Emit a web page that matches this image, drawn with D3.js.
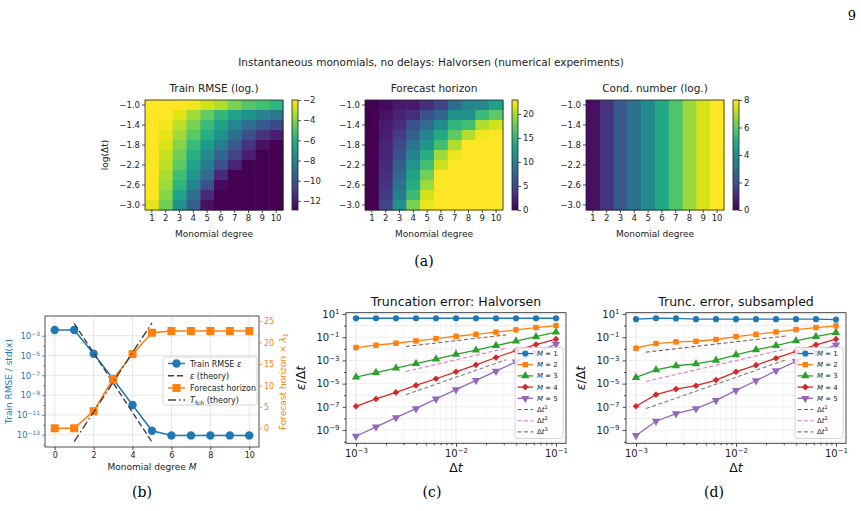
<!DOCTYPE html>
<html lang="en">
<head>
<meta charset="UTF-8">
<title>Instantaneous monomials, no delays: Halvorsen</title>
<script src="https://cdn.jsdelivr.net/npm/d3@7"></script>
<style>
  body { margin: 0; background: #fff; }
  svg { font-family: "DejaVu Sans", sans-serif; }
</style>
</head>
<body>
<svg id="fig" width="861" height="511"></svg>
<script>
// ---- data: heatmaps (rows = log(dt) from -1.0 down to -3.0, cols = monomial degree 1..10)
const degrees = [1, 2, 3, 4, 5, 6, 7, 8, 9, 10];
const logDt = [-1.0, -1.2, -1.4, -1.6, -1.8, -2.0, -2.2, -2.4, -2.6, -2.8, -3.0];
const logDtTicks = [-1.0, -1.4, -1.8, -2.2, -2.6, -3.0];

const trainRmseLog = [
  [-2.0, -2.0, -2.0, -2.2, -2.8, -3.3, -4.2, -4.9, -5.3, -5.8],
  [-2.0, -2.0, -2.5, -3.5, -4.6, -5.7, -6.6, -7.4, -8.1, -8.5],
  [-2.0, -2.2, -3.1, -4.2, -5.5, -6.7, -7.9, -9.0, -9.8, -10.5],
  [-2.0, -2.4, -3.5, -4.8, -6.1, -7.4, -8.9, -10.2, -11.3, -12.0],
  [-2.0, -2.6, -4.0, -5.5, -6.9, -8.3, -9.8, -11.3, -12.4, -12.9],
  [-2.0, -2.9, -4.4, -6.0, -7.7, -9.3, -10.7, -12.0, -12.9, -12.9],
  [-2.0, -3.1, -4.7, -6.6, -8.3, -10.2, -11.8, -12.9, -12.9, -12.9],
  [-2.0, -3.4, -5.3, -7.2, -9.1, -11.6, -12.9, -12.9, -12.9, -12.9],
  [-2.0, -3.6, -5.8, -8.0, -10.2, -12.6, -12.9, -12.9, -12.9, -12.9],
  [-2.0, -4.0, -6.6, -8.8, -11.6, -12.9, -12.9, -12.9, -12.9, -12.9],
  [-2.4, -4.4, -7.4, -9.6, -12.4, -12.9, -12.9, -12.9, -12.9, -12.9]
];
const forecastHorizon = [
  [0, 0.7, 1.4, 1.6, 3.0, 4.6, 8.0, 10.3, 10.8, 13.1],
  [0, 1.1, 2.3, 3.0, 5.7, 7.3, 11.5, 11.5, 15.6, 17.2],
  [0, 1.6, 3.0, 5.7, 8.0, 11.0, 14.9, 16.0, 20.2, 21.3],
  [0, 1.8, 4.1, 6.9, 10.3, 13.7, 17.2, 20.2, 22.4, 22.9],
  [0, 2.3, 5.0, 8.7, 11.9, 16.0, 20.2, 22.9, 22.9, 22.9],
  [0, 2.3, 5.7, 10.3, 14.2, 19.5, 22.2, 22.9, 22.9, 22.9],
  [0, 2.7, 6.9, 11.9, 16.0, 21.1, 22.9, 22.9, 22.9, 22.9],
  [0, 3.2, 7.6, 13.3, 17.9, 22.9, 22.9, 22.9, 22.9, 22.9],
  [0, 3.4, 8.7, 14.2, 19.5, 22.9, 22.9, 22.9, 22.9, 22.9],
  [0, 3.9, 9.6, 15.6, 21.3, 22.9, 22.9, 22.9, 22.9, 22.9],
  [0, 4.6, 11.5, 18.3, 22.2, 22.9, 22.9, 22.9, 22.9, 22.9]
];
const condLog = [0.3, 1.2, 2.2, 3.0, 3.8, 4.8, 5.8, 6.8, 7.5, 8.0];

// ---- data: panel (b)
const degB = [0, 1, 2, 3, 4, 5, 6, 7, 8, 9, 10];
const rmseB = [3.8e-3, 3.8e-3, 1.5e-5, 4.3e-8, 1.0e-10, 2.5e-13, 8.5e-14, 8.5e-14, 8.5e-14, 8.5e-14, 8.5e-14];
const horizonB = [0, 0, 4.0, 11.5, 17.3, 22.3, 22.7, 22.7, 22.7, 22.7, 22.7];
const degTheory = [1, 2, 3, 4, 5];
const epsTheory = [1.8e-2, 1.8e-5, 1.8e-8, 1.8e-11, 1.8e-14];
const tfchTheory = [-3.1, 3.8, 10.75, 17.7, 24.6];

// ---- data: panels (c), (d)  (log10 of eps/dt)
const dt = [1e-3, 1.585e-3, 2.512e-3, 3.981e-3, 6.310e-3, 1e-2, 1.585e-2, 2.512e-2, 3.981e-2, 6.310e-2, 1e-1];
const truncFullLog = [
  [0.63, 0.63, 0.63, 0.63, 0.63, 0.63, 0.63, 0.63, 0.63, 0.63, 0.63],
  [-1.89, -1.69, -1.52, -1.32, -1.12, -0.92, -0.75, -0.57, -0.37, -0.17, 0.0],
  [-4.44, -4.05, -3.66, -3.28, -2.89, -2.48, -2.12, -1.73, -1.34, -0.96, -0.57],
  [-6.95, -6.32, -5.75, -5.15, -4.58, -3.98, -3.38, -2.75, -2.15, -1.63, -1.17],
  [-9.53, -8.73, -7.93, -7.15, -6.32, -5.52, -4.72, -3.92, -3.12, -2.32, -1.60]
];
const truncSubLog = [
  [0.55, 0.63, 0.62, 0.55, 0.55, 0.55, 0.55, 0.55, 0.55, 0.55, 0.52],
  [-1.95, -1.55, -1.40, -1.35, -1.20, -0.95, -0.75, -0.55, -0.34, -0.17, -0.03],
  [-4.47, -3.81, -3.46, -3.29, -3.00, -2.52, -2.09, -1.72, -1.32, -0.95, -0.60],
  [-6.95, -5.95, -5.47, -5.18, -4.69, -3.98, -3.41, -2.81, -2.23, -1.66, -1.17],
  [-9.47, -8.24, -7.58, -7.15, -6.44, -5.58, -4.75, -3.89, -3.09, -2.32, -1.66]
];
// reference slopes: endpoints [dt0, dt1] and log10 values at them
const refDtFull = [3.16e-3, 3.16e-2];
const refFullLog = [[-1.80, -0.80], [-3.95, -1.95], [-5.95, -2.95]];
const refDtSub = [1.26e-3, 3.16e-2];
const refSubLog = [[-2.29, -0.89], [-4.81, -2.01], [-7.15, -2.95]];

const seriesColors = ["#1f77b4", "#ff7f0e", "#2ca02c", "#d62728", "#9467bd"];
const refColors = ["#8c564b", "#e377c2", "#7f7f7f"];

const svg = d3.select("#fig");
svg.append("rect").attr("width", 861).attr("height", 511).attr("fill", "#fff");
const defs = svg.append("defs");
const minus = s => String(s).replace("-", "\u2212");

function styleAxis(ax, size, color) {
  ax.attr("font-family", "DejaVu Sans").attr("font-size", size);
  ax.select(".domain").remove();
  ax.selectAll(".tick line").attr("stroke", color || "#222").attr("stroke-width", 0.8);
  ax.selectAll(".tick text").attr("fill", color || "#222");
}

function powLabels(ax) {
  ax.selectAll(".tick text").each(function(d) {
    const e = Math.round(Math.log10(d));
    const t = d3.select(this).text(null);
    t.append("tspan").text("10");
    t.append("tspan").attr("dy", "-0.5em").attr("font-size", "0.7em").text(minus(e));
  });
}

function frame(x0, y0, x1, y1) {
  svg.append("rect").attr("x", x0).attr("y", y0).attr("width", x1 - x0).attr("height", y1 - y0)
    .attr("fill", "none").attr("stroke", "#222").attr("stroke-width", 0.8);
}

// ---- page decorations
svg.append("text").attr("x", 856).attr("y", 20).attr("text-anchor", "end")
  .attr("font-family", "DejaVu Serif").attr("font-size", 13).text("9");
svg.append("text").attr("x", 431).attr("y", 66).attr("text-anchor", "middle")
  .attr("font-size", 10.5).attr("fill", "#222")
  .text("Instantaneous monomials, no delays: Halvorsen (numerical experiments)");
[["(a)", 424, 266], ["(b)", 142, 497], ["(c)", 432, 497], ["(d)", 714, 497]].forEach(([t, x, y]) => {
  svg.append("text").attr("x", x).attr("y", y).attr("text-anchor", "middle")
    .attr("font-family", "DejaVu Serif").attr("font-size", 14).text(t);
});

// ---- (a) heatmaps
function heatmap(left, title, matrix, vmin, vmax, cbTicks, id, yLabel) {
  const top = 100, w = 138, h = 110;
  const g = svg.append("g").attr("transform", `translate(${left},${top})`);
  const x = d3.scaleBand().domain(degrees).range([0, w]);
  const y = d3.scaleBand().domain(logDt).range([0, h]);
  const color = d3.scaleSequential(d3.interpolateViridis).domain([vmin, vmax]).clamp(true);
  const cells = [];
  matrix.forEach((row, i) => row.forEach((v, j) => cells.push({ r: logDt[i], c: degrees[j], v })));
  g.selectAll("rect.cell").data(cells).join("rect").attr("class", "cell")
    .attr("x", d => x(d.c)).attr("y", d => y(d.r))
    .attr("width", x.bandwidth() + 0.5).attr("height", y.bandwidth() + 0.5)
    .attr("fill", d => color(d.v));
  g.append("rect").attr("width", w).attr("height", h).attr("fill", "none")
    .attr("stroke", "#222").attr("stroke-width", 0.8);
  const ax = g.append("g").attr("transform", `translate(0,${h})`)
    .call(d3.axisBottom(x).tickSize(3).tickPadding(2));
  styleAxis(ax, 8.5);
  const ay = g.append("g").call(d3.axisLeft(y).tickValues(logDtTicks).tickSize(3).tickPadding(2)
    .tickFormat(d => minus(d.toFixed(1))));
  styleAxis(ay, 8.5);
  g.append("text").attr("x", w / 2).attr("y", -8).attr("text-anchor", "middle")
    .attr("font-size", 10.5).attr("fill", "#222").text(title);
  g.append("text").attr("x", w / 2).attr("y", h + 27).attr("text-anchor", "middle")
    .attr("font-size", 9).attr("fill", "#222").text("Monomial degree");
  if (yLabel) {
    g.append("text").attr("transform", `translate(-37,${h / 2}) rotate(-90)`)
      .attr("text-anchor", "middle").attr("font-size", 9).attr("fill", "#222").text(yLabel);
  }
  // colorbar
  const grad = defs.append("linearGradient").attr("id", id)
    .attr("x1", 0).attr("y1", 1).attr("x2", 0).attr("y2", 0);
  d3.range(0, 1.0001, 0.05).forEach(t => grad.append("stop").attr("offset", t).attr("stop-color", d3.interpolateViridis(t)));
  const cb = g.append("g").attr("transform", `translate(${w + 9},0)`);
  cb.append("rect").attr("width", 6).attr("height", h).attr("fill", `url(#${id})`)
    .attr("stroke", "#222").attr("stroke-width", 0.8);
  const cs = d3.scaleLinear().domain([vmin, vmax]).range([h, 0]);
  const ac = cb.append("g").attr("transform", "translate(6,0)")
    .call(d3.axisRight(cs).tickValues(cbTicks).tickSize(3).tickPadding(2).tickFormat(d => minus(d)));
  styleAxis(ac, 8.5);
}
heatmap(145, "Train RMSE (log.)", trainRmseLog, -12.9, -2, [-2, -4, -6, -8, -10, -12], "cb1", "log(\u0394t)");
heatmap(365, "Forecast horizon", forecastHorizon, 0, 22.9, [0, 5, 10, 15, 20], "cb2");
heatmap(586, "Cond. number (log.)", logDt.map(() => condLog), 0, 8, [0, 2, 4, 6, 8], "cb3");

// ---- (b)
(function() {
  const L = 45, R = 259, T = 316, B = 447;
  const x = d3.scaleLinear().domain([-0.5, 10.5]).range([L, R]);
  const yl = d3.scaleLog().domain([10 ** -14.24, 10 ** -1.01]).range([B, T]);
  const yr = d3.scaleLinear().domain([-4.36, 26.2]).range([B, T]);
  const majL = [1e-3, 1e-5, 1e-7, 1e-9, 1e-11, 1e-13];
  const g = svg.append("g");
  g.selectAll("line.gx").data([0, 2, 4, 6, 8, 10]).join("line")
    .attr("x1", d => x(d)).attr("x2", d => x(d)).attr("y1", T).attr("y2", B)
    .attr("stroke", "#e0e0e0").attr("stroke-width", 0.8);
  g.selectAll("line.gy").data(majL).join("line")
    .attr("x1", L).attr("x2", R).attr("y1", d => yl(d)).attr("y2", d => yl(d))
    .attr("stroke", "#e0e0e0").attr("stroke-width", 0.8);

  const blue = seriesColors[0], orange = seriesColors[1];
  g.append("path").datum(degB.map((d, i) => [d, rmseB[i]]))
    .attr("d", d3.line(d => x(d[0]), d => yl(d[1]))).attr("fill", "none").attr("stroke", blue).attr("stroke-width", 1.5);
  g.selectAll("circle.rm").data(degB.map((d, i) => [d, rmseB[i]])).join("circle")
    .attr("cx", d => x(d[0])).attr("cy", d => yl(d[1])).attr("r", 4.2).attr("fill", blue);
  g.append("path").datum(degTheory.map((d, i) => [d, epsTheory[i]]))
    .attr("d", d3.line(d => x(d[0]), d => yl(d[1]))).attr("fill", "none")
    .attr("stroke", "#404040").attr("stroke-width", 1.4).attr("stroke-dasharray", "6,3");
  g.append("path").datum(degB.map((d, i) => [d, horizonB[i]]))
    .attr("d", d3.line(d => x(d[0]), d => yr(d[1]))).attr("fill", "none").attr("stroke", orange).attr("stroke-width", 1.5);
  g.selectAll("rect.hz").data(degB.map((d, i) => [d, horizonB[i]])).join("rect")
    .attr("x", d => x(d[0]) - 4).attr("y", d => yr(d[1]) - 4).attr("width", 8).attr("height", 8).attr("fill", orange);
  g.append("path").datum(degTheory.map((d, i) => [d, tfchTheory[i]]))
    .attr("d", d3.line(d => x(d[0]), d => yr(d[1]))).attr("fill", "none")
    .attr("stroke", "#404040").attr("stroke-width", 1.4).attr("stroke-dasharray", "8,3,1.5,3");

  frame(L, T, R, B);
  const ax = svg.append("g").attr("transform", `translate(0,${B})`)
    .call(d3.axisBottom(x).tickValues([0, 2, 4, 6, 8, 10]).tickSize(3).tickPadding(2));
  styleAxis(ax, 8);
  const ayl = svg.append("g").attr("transform", `translate(${L},0)`)
    .call(d3.axisLeft(yl).tickValues(majL).tickSize(3).tickPadding(2));
  styleAxis(ayl, 8.5, blue);
  powLabels(ayl);
  const aylm = svg.append("g").attr("transform", `translate(${L},0)`)
    .call(d3.axisLeft(yl).tickValues([1e-4, 1e-6, 1e-8, 1e-10, 1e-12, 1e-14]).tickSize(1.8).tickFormat(""));
  styleAxis(aylm, 8, blue);
  const ayr = svg.append("g").attr("transform", `translate(${R},0)`)
    .call(d3.axisRight(yr).tickValues([0, 5, 10, 15, 20, 25]).tickSize(3).tickPadding(2));
  styleAxis(ayr, 8, orange);

  svg.append("text").attr("x", (L + R) / 2).attr("y", 470).attr("text-anchor", "middle")
    .attr("font-size", 9).attr("fill", "#222")
    .html('Monomial degree <tspan font-style="italic">M</tspan>');
  svg.append("text").attr("transform", `translate(12,${(T + B) / 2}) rotate(-90)`)
    .attr("text-anchor", "middle").attr("font-size", 9).attr("fill", blue).text("Train RMSE / std(x)");
  svg.append("text").attr("transform", `translate(286,${(T + B) / 2}) rotate(-90)`)
    .attr("text-anchor", "middle").attr("font-size", 9).attr("fill", orange)
    .html('Forecast horizon \u00d7 <tspan font-style="italic">\u03bb</tspan><tspan font-size="6.5" dy="2">1</tspan>');

  // legend
  const lg = svg.append("g").attr("transform", "translate(163,357)");
  lg.append("rect").attr("width", 94).attr("height", 48).attr("rx", 2)
    .attr("fill", "#fff").attr("fill-opacity", 0.85).attr("stroke", "#ccc").attr("stroke-width", 0.8);
  const items = [
    { lab: 'Train RMSE <tspan font-style="italic">\u03b5</tspan>', c: blue, m: "circle" },
    { lab: '<tspan font-style="italic">\u03b5</tspan> (theory)', c: "#404040", dash: "6,3" },
    { lab: "Forecast horizon", c: orange, m: "square" },
    { lab: '<tspan font-style="italic">T</tspan><tspan font-size="6" dy="2">fch</tspan><tspan dy="-2"> (theory)</tspan>', c: "#404040", dash: "8,3,1.5,3" }
  ];
  items.forEach((it, i) => {
    const yy = 6.5 + i * 12.2;
    lg.append("line").attr("x1", 5).attr("x2", 22).attr("y1", yy).attr("y2", yy)
      .attr("stroke", it.c).attr("stroke-width", 1.5).attr("stroke-dasharray", it.dash || null);
    if (it.m === "circle") lg.append("circle").attr("cx", 13.5).attr("cy", yy).attr("r", 4.2).attr("fill", it.c);
    if (it.m === "square") lg.append("rect").attr("x", 9.5).attr("y", yy - 4).attr("width", 8).attr("height", 8).attr("fill", it.c);
    lg.append("text").attr("x", 27).attr("y", yy + 3).attr("font-size", 8).attr("fill", "#222").html(it.lab);
  });
})();

// ---- (c), (d)
const markerTypes = [
  { s: d3.symbolCircle, size: 30, rot: 0 },
  { s: d3.symbolSquare, size: 30, rot: 0 },
  { s: d3.symbolTriangle, size: 30, rot: 0 },
  { s: d3.symbolSquare, size: 22, rot: 45 },
  { s: d3.symbolTriangle, size: 30, rot: 180 }
];

function truncPanel(L, title, seriesLog, refDt, refLog, legendX) {
  const R = L + 220, T = 312.7, B = 443.3;
  const x = d3.scaleLog().domain([10 ** -3.1, 10 ** -0.9]).range([L, R]);
  const y = d3.scaleLog().domain([10 ** -10.14, 10 ** 1.11]).range([B, T]);
  const g = svg.append("g");
  const xMinor = [];
  [1e-3, 1e-2].forEach(b => [2, 3, 4, 5, 6, 7, 8, 9].forEach(k => xMinor.push(b * k)));
  g.selectAll("line.gxm").data(xMinor).join("line")
    .attr("x1", d => x(d)).attr("x2", d => x(d)).attr("y1", T).attr("y2", B)
    .attr("stroke", "#ececec").attr("stroke-width", 0.6);
  g.selectAll("line.gx").data([1e-3, 1e-2, 1e-1]).join("line")
    .attr("x1", d => x(d)).attr("x2", d => x(d)).attr("y1", T).attr("y2", B)
    .attr("stroke", "#dedede").attr("stroke-width", 0.8);
  g.selectAll("line.gy").data(d3.range(1, -11, -1).map(e => 10 ** e)).join("line")
    .attr("x1", L).attr("x2", R).attr("y1", d => y(d)).attr("y2", d => y(d))
    .attr("stroke", "#e6e6e6").attr("stroke-width", 0.7);

  seriesLog.forEach((s, k) => {
    const pts = dt.map((d, i) => [d, 10 ** s[i]]);
    g.append("path").datum(pts).attr("d", d3.line(d => x(d[0]), d => y(d[1])))
      .attr("fill", "none").attr("stroke", seriesColors[k]).attr("stroke-width", 1.3);
    const mk = markerTypes[k];
    g.selectAll(null).data(pts).join("path")
      .attr("transform", d => `translate(${x(d[0])},${y(d[1])}) rotate(${mk.rot})`)
      .attr("d", d3.symbol(mk.s, mk.size)).attr("fill", seriesColors[k]);
  });
  refLog.forEach((r, k) => {
    g.append("path").datum(refDt.map((d, i) => [d, 10 ** r[i]]))
      .attr("d", d3.line(d => x(d[0]), d => y(d[1]))).attr("fill", "none")
      .attr("stroke", refColors[k]).attr("stroke-width", 1.1).attr("stroke-dasharray", "4,2.5");
  });

  frame(L, T, R, B);
  const ax = svg.append("g").attr("transform", `translate(0,${B})`)
    .call(d3.axisBottom(x).tickValues([1e-3, 1e-2, 1e-1]).tickSize(3.5).tickPadding(3));
  styleAxis(ax, 10);
  powLabels(ax);
  const axm = svg.append("g").attr("transform", `translate(0,${B})`)
    .call(d3.axisBottom(x).tickValues(xMinor).tickSize(2).tickFormat(""));
  styleAxis(axm, 10);
  const ay = svg.append("g").attr("transform", `translate(${L},0)`)
    .call(d3.axisLeft(y).tickValues([1e1, 1e-1, 1e-3, 1e-5, 1e-7, 1e-9]).tickSize(3.5).tickPadding(3));
  styleAxis(ay, 10);
  powLabels(ay);
  const aym = svg.append("g").attr("transform", `translate(${L},0)`)
    .call(d3.axisLeft(y).tickValues([1e0, 1e-2, 1e-4, 1e-6, 1e-8, 1e-10]).tickSize(2).tickFormat(""));
  styleAxis(aym, 10);

  svg.append("text").attr("x", (L + R) / 2).attr("y", 306).attr("text-anchor", "middle")
    .attr("font-size", 12.5).attr("fill", "#111").text(title);
  svg.append("text").attr("x", (L + R) / 2).attr("y", 472).attr("text-anchor", "middle")
    .attr("font-size", 12.5).attr("fill", "#111").html('\u0394<tspan font-style="italic">t</tspan>');
  svg.append("text").attr("transform", `translate(${L - 41},${(T + B) / 2}) rotate(-90)`)
    .attr("text-anchor", "middle").attr("font-size", 12.5).attr("fill", "#111")
    .html('<tspan font-style="italic">\u03b5</tspan>/\u0394<tspan font-style="italic">t</tspan>');

  // legend
  const lg = svg.append("g").attr("transform", `translate(${legendX},347.5)`);
  lg.append("rect").attr("width", 48).attr("height", 91).attr("rx", 2)
    .attr("fill", "#fff").attr("fill-opacity", 0.8).attr("stroke", "#ccc").attr("stroke-width", 0.8);
  for (let k = 0; k < 8; k++) {
    const yy = 6 + k * 11.2;
    const c = k < 5 ? seriesColors[k] : refColors[k - 5];
    lg.append("line").attr("x1", 2.5).attr("x2", 18).attr("y1", yy).attr("y2", yy)
      .attr("stroke", c).attr("stroke-width", k < 5 ? 1.3 : 1.1).attr("stroke-dasharray", k < 5 ? null : "4,2.5");
    if (k < 5) {
      const mk = markerTypes[k];
      lg.append("path").attr("transform", `translate(10.3,${yy}) rotate(${mk.rot})`)
        .attr("d", d3.symbol(mk.s, mk.size)).attr("fill", c);
    }
    const t = lg.append("text").attr("x", 22).attr("y", yy + 2.5).attr("font-size", 7).attr("fill", "#222");
    if (k < 5) t.html(`<tspan font-style="italic">M</tspan> = ${k + 1}`);
    else t.html(`\u0394<tspan font-style="italic">t</tspan><tspan font-size="5" dy="-3">${k - 4}</tspan>`);
  }
}
truncPanel(346, "Truncation error: Halvorsen", truncFullLog, refDtFull, refFullLog, 515);
truncPanel(626, "Trunc. error, subsampled", truncSubLog, refDtSub, refSubLog, 795);
</script>
</body>
</html>
